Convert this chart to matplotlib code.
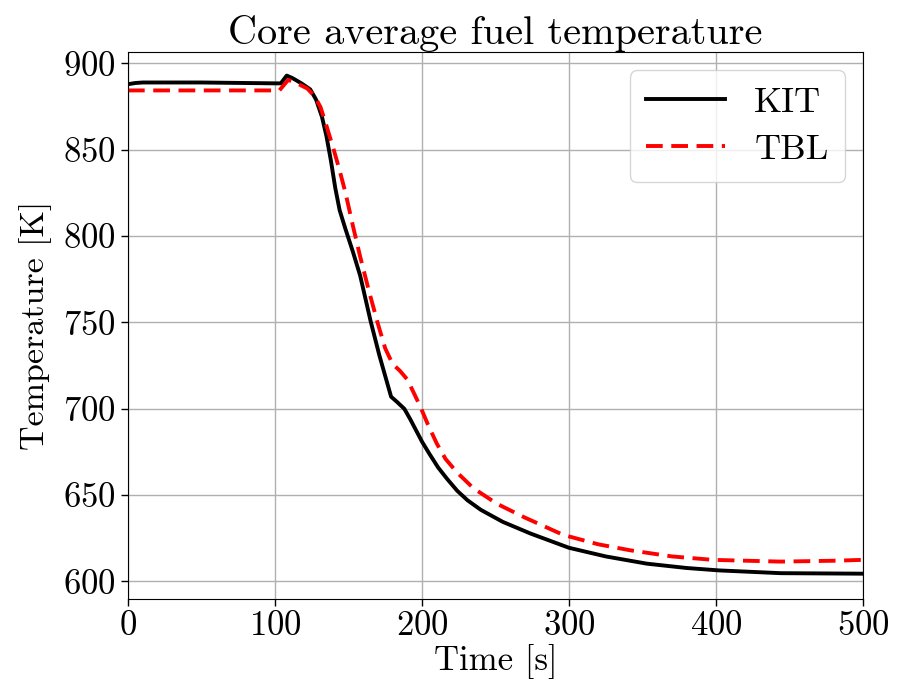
import matplotlib
matplotlib.use("Agg")
import matplotlib.pyplot as plt

plt.rcParams['font.family'] = 'serif'
plt.rcParams['font.serif'] = ['cmr10']
plt.rcParams['mathtext.fontset'] = 'cm'
plt.rcParams['axes.formatter.use_mathtext'] = True

# tiempo [s] y temperatura [K]
t_kit = [0, 5, 10, 50, 100, 104, 108, 112, 118, 124, 128, 132, 135, 138, 141, 144, 148,
         153, 158, 165, 171, 176, 179, 183, 188, 192, 196, 200, 205, 211, 217, 224,
         231, 240, 255, 274, 300, 325, 353, 380, 402, 444, 500]
T_kit = [888, 888.7, 889, 889, 888.5, 888.5, 893, 891.5, 888.5, 885, 879, 869, 858, 844, 828, 815, 804,
         791, 777, 751, 731, 716, 707, 704, 700, 694, 687.5, 681, 674, 666, 659.5, 652.5,
         647, 641.5, 634.5, 627.7, 619.5, 614.5, 610.3, 607.8, 606.4, 604.8, 604.5]

t_tbl = [0, 50, 103, 109, 115, 122, 127, 131, 135, 140, 144, 148, 153, 158, 164, 170,
         175, 180, 185, 190, 194, 199, 204, 210, 216, 224, 235, 251, 270, 296, 320,
         342, 370, 398, 444, 480, 500]
T_tbl = [884.4, 884.4, 884.4, 890.5, 888.5, 885.5, 881, 874.7, 864, 850, 838, 825, 806, 788, 768, 749.3,
         735, 726, 722, 717, 710, 701, 691, 680, 671, 663, 654, 645, 637, 627, 621.5,
         618, 614.5, 612.5, 611.5, 612, 612.5]

fig = plt.figure(figsize=(8.98, 6.97), dpi=100)
ax = fig.add_axes([0.1425, 0.141, 0.8185, 0.784])
ax.plot(t_kit, T_kit, color='black', lw=2.8, label='KIT')
ax.plot(t_tbl, T_tbl, color='red', lw=2.8, ls='--', dashes=(4.3, 2.2), label='TBL')
ax.set_xlim(0, 500)
ax.set_ylim(590, 906.5)
ax.set_yticks([600, 650, 700, 750, 800, 850, 900])
ax.grid(True, color='#b0b0b0', lw=1.0)
ax.tick_params(labelsize=25, length=5, width=1)
ax.set_xlabel('Time [s]', fontsize=25, labelpad=1)
ax.set_ylabel('Temperature [K]', fontsize=24.5, labelpad=8)
ax.set_title('Core average fuel temperature', fontsize=29, pad=5)
ax.legend(loc='upper right', fontsize=26, handlelength=2.2, handletextpad=0.8,
          borderpad=0.45, labelspacing=0.4)

fig.savefig('out.png', dpi=100)
